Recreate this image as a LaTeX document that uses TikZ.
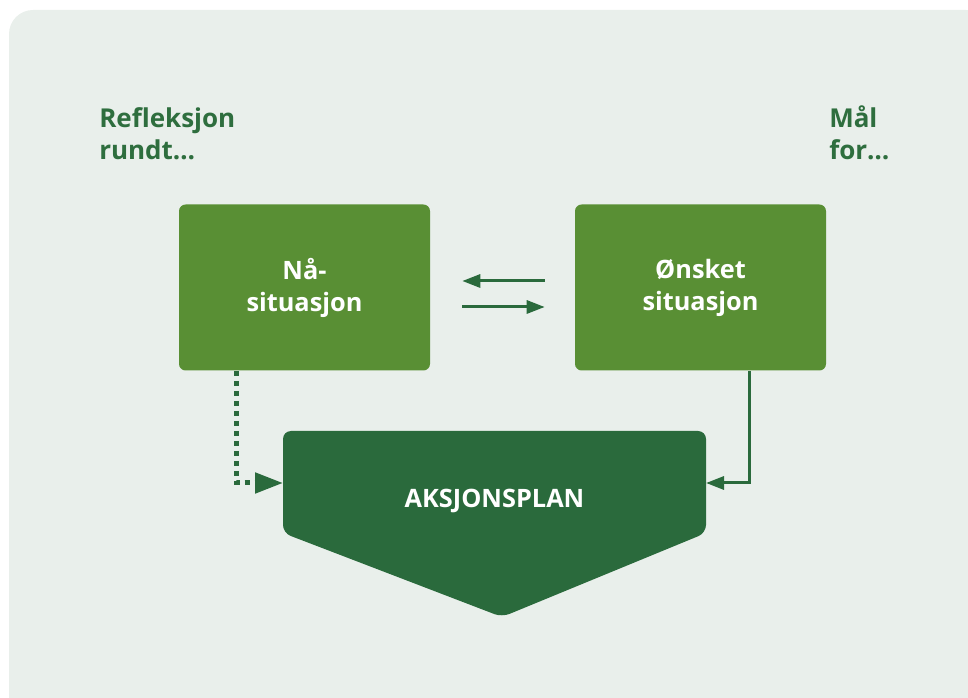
\documentclass[tikz,border=0pt]{standalone}
\usepackage{fontspec}
\setmainfont{Open Sans}
\usetikzlibrary{arrows.meta}
\usetikzlibrary{calc}
\definecolor{bggreen}{RGB}{233,239,235}
\definecolor{boxgreen}{RGB}{89,143,52}
\definecolor{plangreen}{RGB}{42,106,60}
\definecolor{txtgreen}{RGB}{46,110,62}

\tikzset{
  sitbox/.style={fill=boxgreen, rounded corners=5pt, minimum width=188.25pt,
    minimum height=124.5pt, align=center, text=white,
    font=\bfseries\fontsize{19}{24}\selectfont},
  headtext/.style={text=txtgreen, align=left, inner sep=0pt, anchor=base west,
    font=\bfseries\fontsize{19.5}{24}\selectfont},
  flowline/.style={draw=plangreen, line width=2.25pt,
    -{Triangle[length=13.5pt, width=9.75pt]}},
  dotline/.style={draw=plangreen, line width=3.75pt, dash pattern=on 3.75pt off 3.75pt,
    -{Triangle[length=21pt, width=15pt]}}
}

\begin{document}
\begin{tikzpicture}[x=0.75pt, y=-0.75pt]

  \useasboundingbox (0,0) rectangle (968,698);
  \clip (0,0) rectangle (968,698);
  \fill[bggreen, rounded corners=18pt] (9,10) rectangle (990,720);

  % headings
  \node[headtext] (refl) at (99,160) {Refleksjon\\rundt\dots};
  \node[headtext] (maal) at (829,160) {Mål\\for\dots};

  % the two situations
  \node[sitbox] (naa) at (304.5,287.5) {Nå-\\situasjon};
  \node[sitbox] (onsket) at (700.5,287.5) {Ønsket\\situasjon};

  % action plan
  \fill[plangreen, rounded corners=6pt] (494.5,431) -- (706,431) -- (706,533)
    -- (502,617) -- (283,533) -- (283,431) -- cycle;
  \node[text=white, font=\bfseries\fontsize{19}{24}\selectfont] (plan) at (494.5,501) {AKSJONSPLAN};
  \coordinate (planW) at (283,483);
  \coordinate (planE) at (706,483);

  % arrows between the boxes
  \coordinate (naaR1) at ($(naa.east)+(32,-6.5)$);
  \coordinate (naaR2) at ($(naa.east)+(32,19.5)$);
  \draw[flowline] ($(onsket.west)+(-30,-6.5)$) -- (naaR1);
  \draw[flowline] (naaR2) -- ($(onsket.west)+(-30,19.5)$);

  \draw[dotline] ($(naa.south west)+(58,0)$) |- (planW);
  \draw[flowline] ($(onsket.south west)+(175,0)$) |- (planE);

\end{tikzpicture}
\end{document}
